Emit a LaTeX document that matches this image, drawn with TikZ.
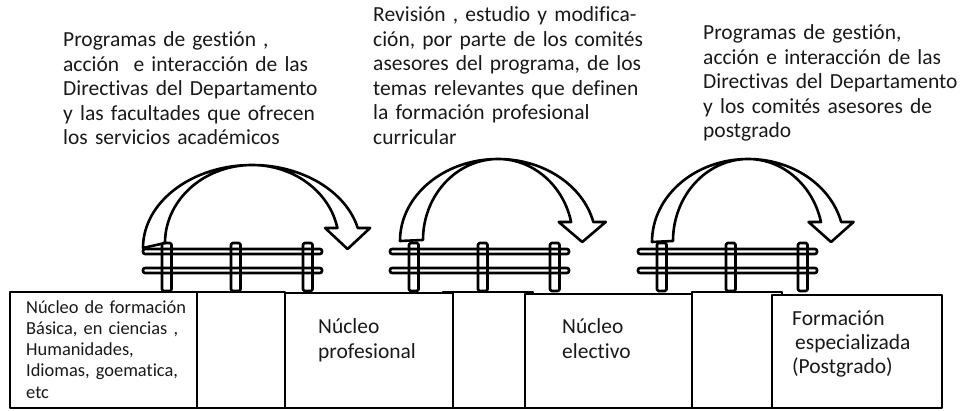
\documentclass[tikz,border=0pt]{standalone}
\usepackage{fontspec}
\setmainfont{Carlito}[RawFeature={-liga;-clig;-dlig;-calt;-rlig}]
\newcommand\bentarrow[9]{%
  \pgfmathsetmacro\ArRyo{#4-#2}%
  \pgfmathsetmacro\ArRyi{#4-#3}%
  \pgfmathsetmacro\ArTho{asin((#7-#2)/\ArRyo)}%
  \pgfmathsetmacro\ArThi{asin((#7-#3)/\ArRyi)}%
  \pgfmathsetmacro\ArXo{#1+#5*cos(\ArTho)}%
  \pgfmathsetmacro\ArXi{#1+#6*cos(\ArThi)}%
  \pgfmathsetmacro\ArSc{(\ArXo+\ArXi)/2}%
  \draw[ln, fill=white] ({#1-#5},#2)
    arc[start angle=180, end angle=\ArTho, x radius=#5pt, y radius=\ArRyo pt]
    -- ({\ArSc+#8},#7) -- (\ArSc,#9) -- ({\ArSc-#8},#7) -- (\ArXi,#7)
    arc[start angle=\ArThi, end angle=180, x radius=#6pt, y radius=\ArRyi pt]
    -- cycle;
}
\newcommand\fence[1]{%
  \draw[ln, rounded corners=2pt] (#1,156) rectangle ++(179,5);
  \draw[ln, rounded corners=2pt] (#1,137) rectangle ++(179,5);
  \foreach \po in {19,88,160}{
    \draw[ln, rounded corners=1.5pt] ({#1+\po},119) rectangle ++(9.5,48);
  }
}
\begin{document}
\begin{tikzpicture}[x=1pt,y=1pt, line join=round,
  ln/.style={line width=2.6pt, draw=black},
  blk/.style={ln, fill=white, rectangle, inner sep=0pt, outer sep=0pt, anchor=north west},
  txt/.style={anchor=base west, inner sep=0pt, align=left, text width=300pt, text=black!90},
  toptext/.style={txt, font=\fontsize{21.5}{24.5}\selectfont},
  boxtext/.style={txt, font=\fontsize{21.5}{25.5}\selectfont},
  smalltext/.style={txt, font=\fontsize{18.4}{21.3}\selectfont}
]
\useasboundingbox (0,0) rectangle (960,410);

% top texts
\node[toptext] (t1) at (63,363) {Programas de gestión ,\\acción\ \ e interacción de las\\Directivas del Departamento\\y las facultades que ofrecen\\los servicios académicos};
\node[toptext] (t2) at (373,388) {Revisión , estudio y modifica-\\ción, por parte de los comités\\asesores del programa, de los\\temas relevantes que definen\\la formación profesional\\curricular};
\node[toptext] (t3) at (703,370) {Programas de gestión,\\acción e interacción de las\\Directivas del Departamento\\y los comités asesores de\\postgrado};

% small linking boxes
\node[blk, minimum width=88, minimum height=116] (s1) at (197,118) {};
\node[blk, minimum width=90, minimum height=116] (s2) at (443,118) {};
\node[blk, minimum width=90, minimum height=116] (s3) at (692,118) {};

% main boxes
\node[blk, minimum width=187, minimum height=116] (b1) at (10,118) {};
\node[blk, minimum width=168, minimum height=115] (b2) at (285,117) {};
\node[blk, minimum width=167, minimum height=114] (b3) at (525,116) {};
\node[blk, minimum width=170, minimum height=113] (b4) at (772,115) {};

% arrows
\bentarrow{252}{162}{167}{245}{109}{87}{182}{22.5}{161}
\bentarrow{498}{169}{170}{251}{98}{75}{188}{23.5}{168}
\bentarrow{748}{168}{169}{251}{96}{75}{188}{22.5}{168}

% fences
\fence{143}
\fence{390}
\fence{638}

% box texts
\node[smalltext] (l1) at (26,97) {Núcleo de formación\\Básica, en ciencias ,\\Humanidades,\\Idiomas, goematica,\\etc};
\node[boxtext] (l2) at (318,77) {Núcleo\\profesional};
\node[boxtext] (l3) at (562,77) {Núcleo\\electivo};
\node[boxtext, font=\fontsize{21.5}{24}\selectfont] (l4) at (792,85) {Formación\\\hspace*{3pt}especializada\\(Postgrado)};
\end{tikzpicture}
\end{document}
